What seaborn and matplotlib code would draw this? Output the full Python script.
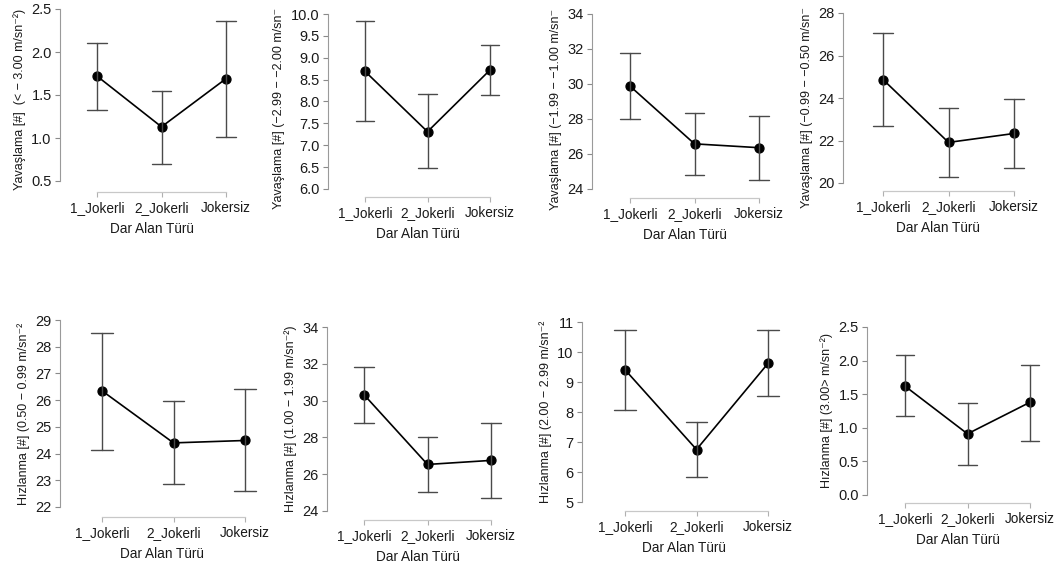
import matplotlib
matplotlib.use("Agg")
import matplotlib.pyplot as plt
import numpy as np
import pandas as pd
import seaborn as sns

# kategoriler
groups = ["1_Jokerli", "2_Jokerli", "Jokersiz"]
xlabel = "Dar Alan Türü"

# Yavaşlama panelleri (ortalama, alt ve üst güven sınırı)
yav1_mean = [1.72, 1.13, 1.69]
yav1_lower = [1.33, 0.70, 1.01]
yav1_upper = [2.11, 1.55, 2.36]

yav2_mean = [8.69, 7.31, 8.72]
yav2_lower = [7.55, 6.47, 8.15]
yav2_upper = [9.83, 8.16, 9.29]

yav3_mean = [29.88, 26.58, 26.36]
yav3_lower = [28.02, 24.80, 24.52]
yav3_upper = [31.76, 28.37, 28.19]

yav4_mean = [24.87, 21.91, 22.33]
yav4_lower = [22.70, 20.28, 20.72]
yav4_upper = [27.04, 23.55, 23.97]

# Hızlanma panelleri
hiz1_mean = [26.35, 24.40, 24.49]
hiz1_lower = [24.15, 22.86, 22.59]
hiz1_upper = [28.53, 25.96, 26.40]

hiz2_mean = [30.32, 26.53, 26.75]
hiz2_lower = [28.80, 25.05, 24.72]
hiz2_upper = [31.85, 28.02, 28.78]

hiz3_mean = [9.41, 6.75, 9.62]
hiz3_lower = [8.07, 5.84, 8.54]
hiz3_upper = [10.75, 7.66, 10.72]

hiz4_mean = [1.62, 0.91, 1.38]
hiz4_lower = [1.17, 0.45, 0.81]
hiz4_upper = [2.08, 1.37, 1.94]

ylabels = [
    "Yavaşlama [#]  (< − 3.00 m/sn⁻²)",
    "Yavaşlama [#] (−2.99 − −2.00 m/sn⁻",
    "Yavaşlama [#] (−1.99 − −1.00 m/sn⁻",
    "Yavaşlama [#] (−0.99 − −0.50 m/sn⁻",
    "Hızlanma [#] (0.50 − 0.99 m/sn⁻²",
    "Hızlanma [#] (1.00 − 1.99 m/sn⁻²)",
    "Hızlanma [#] (2.00 − 2.99 m/sn⁻²",
    "Hızlanma [#] (3.00> m/sn⁻²)",
]
yticks = [
    np.arange(0.5, 2.51, 0.5),
    np.arange(6.0, 10.01, 0.5),
    np.arange(24, 34.1, 2),
    np.arange(20, 28.1, 2),
    np.arange(22, 29.1, 1),
    np.arange(24, 34.1, 2),
    np.arange(5, 11.1, 1),
    np.arange(0.0, 2.51, 0.5),
]
yfmt = ["%.1f", "%.1f", "%d", "%d", "%d", "%d", "%d", "%.1f"]

series = [
    (yav1_mean, yav1_lower, yav1_upper),
    (yav2_mean, yav2_lower, yav2_upper),
    (yav3_mean, yav3_lower, yav3_upper),
    (yav4_mean, yav4_lower, yav4_upper),
    (hiz1_mean, hiz1_lower, hiz1_upper),
    (hiz2_mean, hiz2_lower, hiz2_upper),
    (hiz3_mean, hiz3_lower, hiz3_upper),
    (hiz4_mean, hiz4_lower, hiz4_upper),
]

# panel yerleşimi (piksel): y ekseni x, ilk/son kategori x, üst, alt, x ekseni çizgisi,
# y etiketinin aşağı kaydırılması
layout = [
    (60, 97, 226, 9, 181, 192, 4),
    (328, 365, 490, 14, 189, 197, 7),
    (592, 630, 759, 14, 189, 198, 8),
    (843, 883, 1014, 13, 183, 191, 10),
    (60, 102, 245, 320, 507, 517, 0),
    (327, 364, 491, 327, 511, 520, 0),
    (582, 625, 768, 322, 502, 511, 0),
    (867, 905, 1030, 327, 495, 503, 0),
]

sns.set_style("ticks")
plt.rcParams["font.family"] = ["Liberation Sans", "DejaVu Sans"]

W, H = 1055, 570
fig = plt.figure(figsize=(W / 100, H / 100), dpi=100)

for i, (m, lo, hi) in enumerate(series):
    sx, x0, x2, yt, yb, xl, shift = layout[i]
    right = x2 + 18
    ax = fig.add_axes([sx / W, 1 - yb / H, (right - sx) / W, (yb - yt) / H])

    df = pd.DataFrame({
        "grup": groups * 3,
        "deger": list(lo) + list(m) + list(hi),
    })
    sns.pointplot(
        data=df, x="grup", y="deger", order=groups, ax=ax,
        estimator="median", errorbar=lambda v: (v.min(), v.max()),
        color="black", markers="o", markersize=6.5, linewidth=1.2,
        capsize=0.3, err_kws={"color": "#4a4a4a", "linewidth": 1.0},
    )

    s = (x2 - x0) / 2
    ax.set_xlim((sx - x0) / s, (right - x0) / s)
    ax.set_ylim(yticks[i][0], yticks[i][-1])
    ax.set_yticks(yticks[i])
    ax.set_yticklabels([yfmt[i] % v for v in yticks[i]])

    ax.spines["top"].set_visible(False)
    ax.spines["right"].set_visible(False)
    ax.spines["left"].set_color("#9a9a9a")
    ax.spines["left"].set_linewidth(0.8)
    ax.spines["bottom"].set_color("#c8c8c8")
    ax.spines["bottom"].set_linewidth(0.9)
    ax.spines["bottom"].set_position(("outward", (xl - yb) * 0.72))
    ax.spines["bottom"].set_bounds(0, 2)

    ax.tick_params(axis="y", length=3.5, width=0.8, color="#8a8a8a",
                   labelsize=10.5, labelcolor="#1a1a1a", pad=2.5)
    ax.tick_params(axis="x", length=3.5, width=0.8, color="#b0b0b0",
                   labelsize=9.8, labelcolor="#1a1a1a", pad=3)

    ax.set_xlabel(xlabel, fontsize=9.8, color="#1a1a1a", labelpad=5)
    ax.set_ylabel(ylabels[i], fontsize=9.0, color="#1a1a1a", labelpad=4)
    ax.yaxis.label.set_y(0.5 - shift / (yb - yt))

fig.savefig("out.png", dpi=100)
